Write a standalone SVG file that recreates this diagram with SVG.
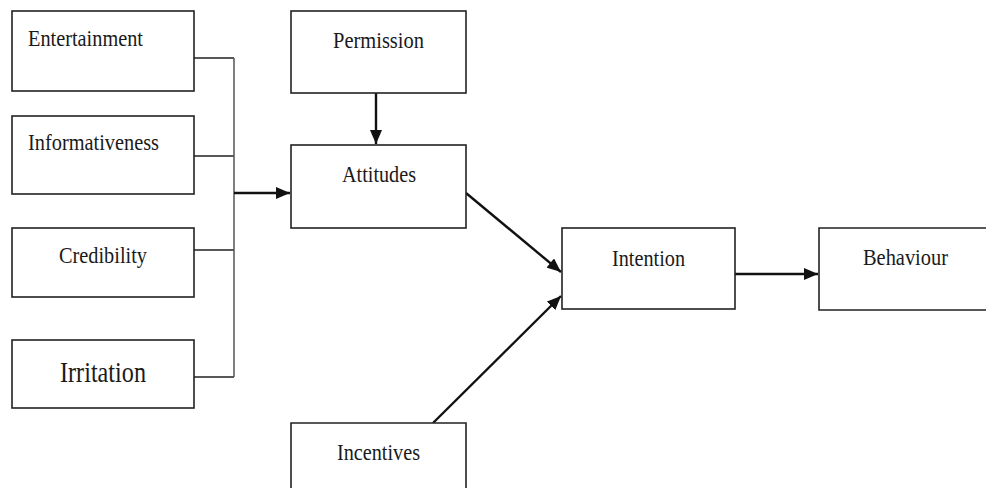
<svg xmlns="http://www.w3.org/2000/svg" width="986" height="488" viewBox="0 0 986 488">
<style>
.box{fill:#fff;stroke:#222;stroke-width:1.6}
.t{font-family:'Liberation Serif','Times New Roman','DejaVu Serif',serif;font-size:24px;fill:#1a1a1a;text-anchor:start}
.thin{fill:none;stroke:#222;stroke-width:1.3}
.bus{fill:none;stroke:#555;stroke-width:1.5}
.thick{fill:none;stroke:#111;stroke-width:2.4}
</style>
<defs>
<marker id="ah" viewBox="0 0 14 12" refX="14" refY="6" markerWidth="14" markerHeight="12" markerUnits="userSpaceOnUse" orient="auto">
<path d="M0,0 L14,6 L0,12 Z" fill="#111"/>
</marker>
</defs>
<rect width="986" height="488" fill="#fff"/>
<g id="connectors">
<path class="thin" d="M194,58 H234 M194,156 H234 M194,250 H234 M194,377 H234"/>
<path class="bus" d="M234,58 V377"/>
<line class="thick" x1="234" y1="193" x2="290" y2="193" marker-end="url(#ah)"/>
<line class="thick" x1="376" y1="91" x2="376" y2="144" marker-end="url(#ah)"/>
<line class="thick" x1="466" y1="193" x2="561" y2="272" marker-end="url(#ah)"/>
<line class="thick" x1="433" y1="423" x2="561" y2="296" marker-end="url(#ah)"/>
<line class="thick" x1="735" y1="274" x2="818" y2="274" marker-end="url(#ah)"/>
</g>
<g id="entertainment"><rect class="box" x="12" y="11" width="182" height="80"/><text class="t" x="28" y="46" textLength="115" lengthAdjust="spacingAndGlyphs">Entertainment</text></g>
<g id="informativeness"><rect class="box" x="12" y="116" width="182" height="78"/><text class="t" x="28" y="150" textLength="131" lengthAdjust="spacingAndGlyphs">Informativeness</text></g>
<g id="credibility"><rect class="box" x="12" y="228" width="182" height="69"/><text class="t" x="59" y="263" textLength="88" lengthAdjust="spacingAndGlyphs">Credibility</text></g>
<g id="irritation"><rect class="box" x="12" y="340" width="182" height="68"/><text class="t" x="60" y="382" style="font-size:29px" textLength="86" lengthAdjust="spacingAndGlyphs">Irritation</text></g>
<g id="permission"><rect class="box" x="291" y="11" width="175" height="82"/><text class="t" x="333" y="48" textLength="91" lengthAdjust="spacingAndGlyphs">Permission</text></g>
<g id="attitudes"><rect class="box" x="291" y="145" width="175" height="83"/><text class="t" x="342" y="182" textLength="74" lengthAdjust="spacingAndGlyphs">Attitudes</text></g>
<g id="incentives"><path class="box" d="M291,492 V423 H466 V492"/><text class="t" x="337" y="460" textLength="83" lengthAdjust="spacingAndGlyphs">Incentives</text></g>
<g id="intention"><rect class="box" x="562" y="228" width="173" height="81"/><text class="t" x="612" y="266" textLength="73" lengthAdjust="spacingAndGlyphs">Intention</text></g>
<g id="behaviour"><path class="box" d="M990,228 H819 V310 H990"/><text class="t" x="863" y="265" textLength="85" lengthAdjust="spacingAndGlyphs">Behaviour</text></g>
</svg>
